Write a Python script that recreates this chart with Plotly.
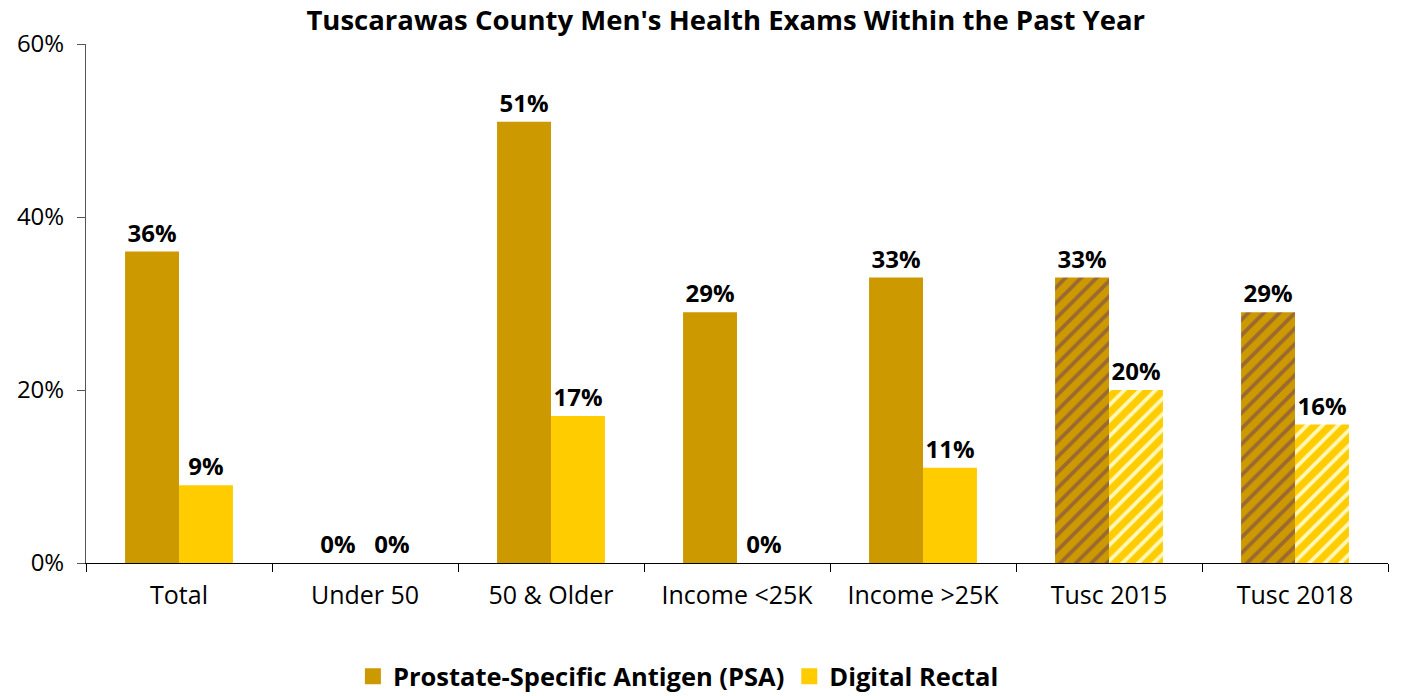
import plotly.graph_objects as go

# Data
categories = ["Total", "Under 50", "50 & Older", "Income <25K", "Income >25K", "Tusc 2015", "Tusc 2018"]
psa = [36, 0, 51, 29, 33, 33, 29]
digital_rectal = [9, 0, 17, 0, 11, 20, 16]
hatched = ["", "", "", "", "", "/", "/"]  # past-year comparisons are striped

series = [
    ("Prostate-Specific Antigen (PSA)", psa, "#CC9900", "#9C6A30"),
    ("Digital Rectal", digital_rectal, "#FFCC00", "#FFF8B8"),
]

fig = go.Figure()

for name, vals, col, stripe in series:
    fig.add_trace(go.Bar(
        x=categories, y=vals, name=name, showlegend=False,
        marker=dict(color=col, line_width=0,
                    pattern=dict(shape=hatched, fgcolor=stripe, bgcolor=col,
                                 size=11, solidity=0.35, fillmode="replace")),
        text=[f"<b>{v}%</b>" for v in vals], textposition="outside",
        textfont=dict(size=24, color="black"), cliponaxis=False,
    ))

# square legend keys like the original
for name, vals, col, stripe in series:
    fig.add_trace(go.Scatter(
        x=[categories[0]], y=[None], mode="markers", name=f"<b>{name}</b>",
        marker=dict(symbol="square", size=20, color=col),
    ))

fig.update_layout(
    width=1401, height=696,
    font=dict(family="Open Sans, Noto Sans, sans-serif", size=25, color="black"),
    title=dict(text="<b>Tuscarawas County Men's Health Exams Within the Past Year</b>",
               x=0.518, xanchor="center", y=0.971, yanchor="middle",
               pad=dict(t=0, b=0), font=dict(size=27.5)),
    barmode="group", bargap=0.42, bargroupgap=0,
    plot_bgcolor="white", paper_bgcolor="white",
    margin=dict(l=86, r=13, t=44, b=133, autoexpand=False),
    legend=dict(orientation="h", x=0.455, xanchor="center", y=-0.219, yanchor="middle",
                font=dict(size=25.5), itemwidth=30, traceorder="normal"),
)
fig.update_xaxes(showline=True, linecolor="black", linewidth=1,
                 ticks="outside", tickson="boundaries", ticklen=8, tickcolor="black",
                 ticklabelstandoff=10)
fig.update_yaxes(range=[0, 60], dtick=20, ticksuffix="%", showgrid=False,
                 showline=True, linecolor="#555555", linewidth=1,
                 ticks="outside", ticklen=8, tickcolor="#555555", zeroline=False,
                 tickfont=dict(size=24), ticklabelstandoff=8)

fig.write_html("out.html", config={"displayModeBar": False},
               post_script="document.body.style.margin='0';")
